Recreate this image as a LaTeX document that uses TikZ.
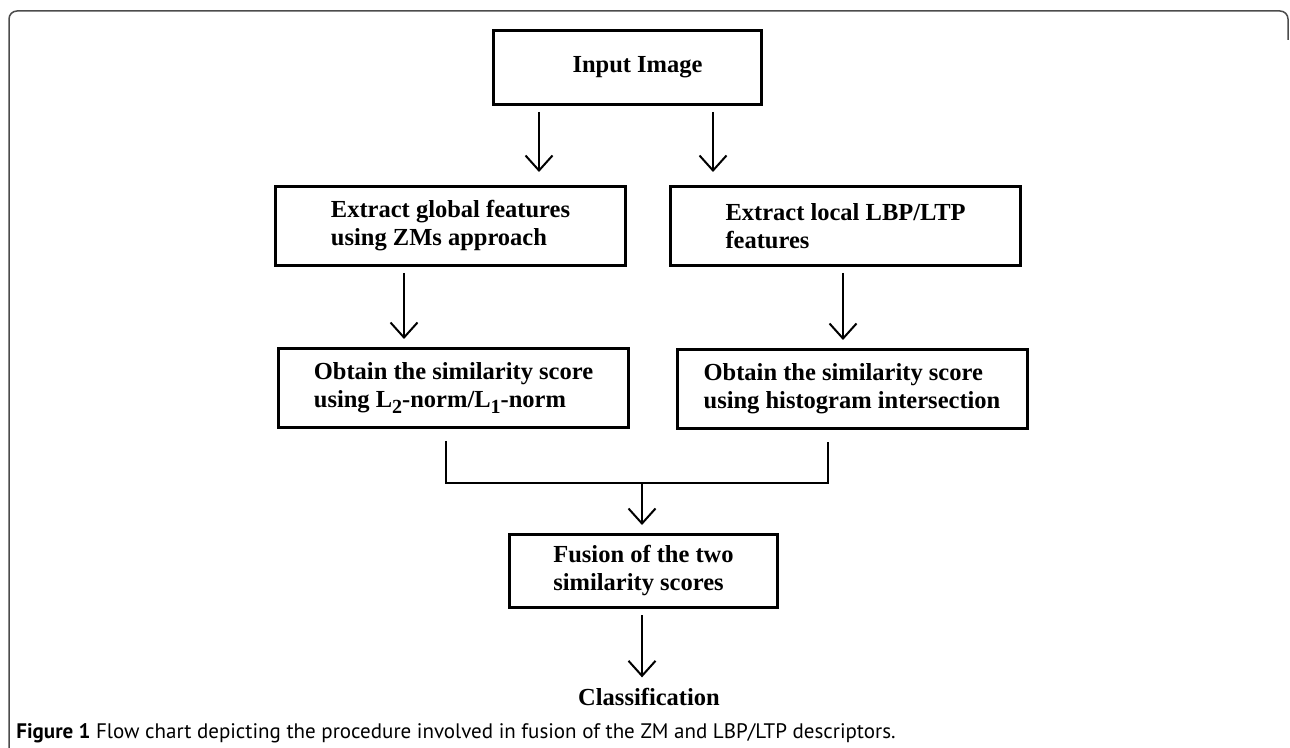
\documentclass[tikz,border=0pt]{standalone}
\usepackage{fontspec}
\setmainfont{Liberation Serif}
\newfontfamily\capfont{PT Sans}
\usetikzlibrary{arrows.meta,positioning,calc}
\newcommand{\lsub}[1]{\raisebox{-3pt}{\fontsize{10}{10}\selectfont #1}}

\begin{document}
\begin{tikzpicture}[
  >={Straight Barb[length=7.5pt,width=13.5pt]},
  every node/.style={font=\bfseries\fontsize{12.25}{14}\selectfont},
  stepbox/.style={draw,line width=1.5pt,align=left,inner sep=0pt,
    minimum width=175pt,minimum height=39.5pt},
  flow/.style={->,line width=1pt,shorten <=3pt,shorten >=4pt},
  mergeline/.style={line width=1pt,shorten <=6pt,shorten >=6pt},
  frame/.style={draw=black!70,line width=0.75pt,rounded corners=4pt}
]
\useasboundingbox (0,0) rectangle (645pt,-374pt);
\draw[frame] (4.5pt,-380pt) -- (4.5pt,-5.5pt) -- (644pt,-5.5pt) -- (644pt,-20pt);

\node[stepbox,minimum width=134pt,minimum height=37pt] (input) at (313.75pt,-33.75pt) {\hspace*{10pt}Input Image};
\node[stepbox,below=39.5pt of input,xshift=-88.5pt] (global) {Extract global features\\using ZMs approach};
\node[stepbox,right=21pt of global] (local) {Extract local LBP/LTP\\features};
\node[stepbox,below=40pt of global,xshift=1.5pt] (scoreZ) {Obtain the similarity score\\using L\lsub{2}-norm/L\lsub{1}-norm};
\node[stepbox,below=40.5pt of local,xshift=3.25pt] (scoreL) {Obtain the similarity score\\using histogram intersection};
\node[stepbox,minimum width=134pt,minimum height=36.5pt,align=left] (fusion) at (321.75pt,-285.5pt) {Fusion of the two\\similarity scores};
\node[inner sep=0pt,anchor=base] (class) at ($(fusion.south)+(2.75pt,-48pt)$) {Classification};
\coordinate (meet) at ([xshift=-0.75pt,yshift=25pt]fusion.north);

\draw[flow,shorten >=6.5pt] ([xshift=-44.25pt]input.south) -- ([xshift=-44.25pt]input.south |- global.north);
\draw[flow,shorten >=6.5pt] ([xshift=42.75pt]input.south) -- ([xshift=42.75pt]input.south |- local.north);
\draw[flow] ([xshift=-23.25pt]global.south) -- ([xshift=-23.25pt]global.south |- scoreZ.north);
\draw[flow] ([xshift=-1.25pt]local.south) -- ([xshift=-1.25pt]local.south |- scoreL.north);
\draw[mergeline] ([xshift=-3.75pt]scoreZ.south) |- (meet) -| ([xshift=-12pt]scoreL.south);
\draw[flow,shorten <=0pt] (meet) -- (meet |- fusion.north);
\draw[flow,shorten >=5pt] ([xshift=-0.75pt]fusion.south) -- ([xshift=-0.75pt]fusion.south |- class.north);

\node[font=\capfont\fontsize{10.5}{12}\selectfont,anchor=base west,inner sep=0pt] (caption) at (8pt,-369pt)
  {\textbf{Figure 1} Flow chart depicting the procedure involved in fusion of the ZM and LBP/LTP descriptors.};
\end{tikzpicture}
\end{document}
